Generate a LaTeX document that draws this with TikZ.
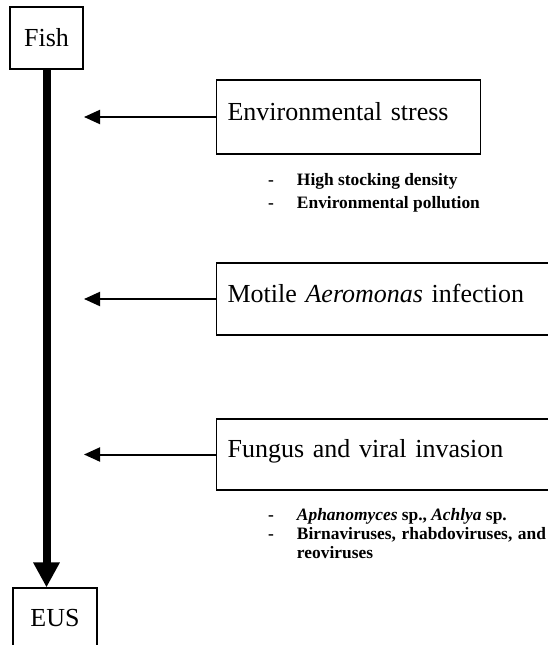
\documentclass[tikz,border=0pt]{standalone}
\usepackage{fontspec}
\setmainfont{Liberation Serif}
\usetikzlibrary{arrows.meta}

\tikzset{
  stage/.style={shape=rectangle,draw=black,line width=1.2pt,inner sep=0pt,font=\fontsize{26}{30}\selectfont},
  factor/.style={shape=rectangle,draw=black,line width=1.2pt,anchor=west,align=left,inner xsep=11pt,inner ysep=0pt,
    text height=17pt,text depth=11pt,font=\fontsize{26}{30}\selectfont},
  mainarrow/.style={line width=8pt,-{Triangle[length=25pt,width=25pt]}},
  sidearrow/.style={line width=2pt,-{Triangle[length=16pt,width=14pt]}},
  notes/.style={anchor=base west,inner sep=0pt,font=\bfseries}
}

\begin{document}
\begin{tikzpicture}[x=1pt,y=-1pt]
    \useasboundingbox (0,0) rectangle (547,645);

    \node[stage,minimum width=73pt,minimum height=62pt] (fish) at (46.5,38) {Fish};
    \node[stage,minimum width=84pt,minimum height=60pt] (eus) at (55,618) {EUS};

    \node[factor,text width=242pt,minimum height=74pt] (env) at (216,117) {Environmental stress};
    \node[factor,text width=338pt,minimum height=72pt] (aero) at (216,299) {Motile \textit{Aeromonas} infection};
    \node[factor,text width=338pt,minimum height=71pt] (fung) at (216,454.5) {Fungus and viral invasion};

    \coordinate (a1) at (84,117);
    \coordinate (a2) at (84,299);
    \coordinate (a3) at (84,454.5);

    \path [mainarrow] (fish.south) edge (fish.south |- eus.north);
    \path [sidearrow] (env.west) edge (a1);
    \path [sidearrow] (aero.west) edge (a2);
    \path [sidearrow] (fung.west) edge (a3);

    % lists under the boxes
    \node[notes] (envlist) at (268,185) {\fontsize{17.4}{23}\selectfont
      \begin{tabular}[t]{@{}l@{\hspace{23pt}}l@{}}
        - & High stocking density\\
        - & Environmental pollution
      \end{tabular}};
    \node[notes] (funglist) at (268,520) {\fontsize{17.4}{19}\selectfont\hyphenpenalty=10000
      \begin{tabular}[t]{@{}l@{\hspace{23pt}}p{249pt}@{}}
        - & \textit{Aphanomyces} sp., \textit{Achlya} sp.\\
        - & Birnaviruses, rhabdoviruses, and reoviruses
      \end{tabular}};
\end{tikzpicture}
\end{document}
